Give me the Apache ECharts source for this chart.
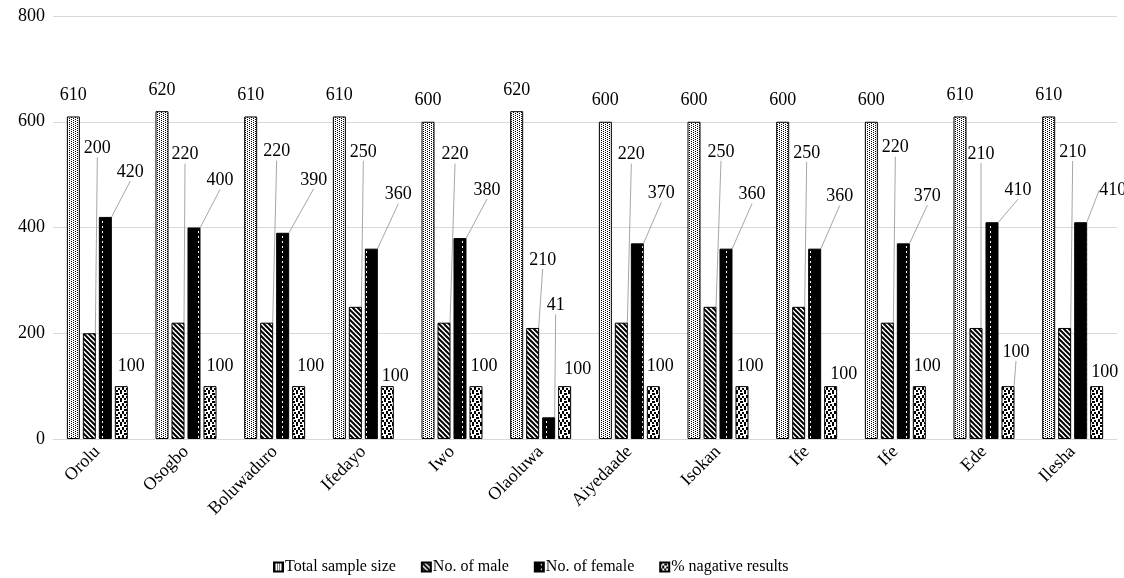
<!DOCTYPE html>
<html>
<head>
<meta charset="utf-8">
<script src="https://cdn.jsdelivr.net/npm/echarts@6/dist/echarts.min.js"></script>
<style>
html,body{margin:0;padding:0;background:#fff;}
#chart{width:1124px;height:578px;}
</style>
</head>
<body>
<div id="chart"></div>
<script>
// ---- data ----
const categories = ['Orolu','Osogbo','Boluwaduro','Ifedayo','Iwo','Olaoluwa','Aiyedaade','Isokan','Ife','Ife','Ede','Ilesha'];
const seriesNames = ['Total sample size','No. of male','No. of female','% nagative results'];
const totalSample = [610,620,610,610,600,620,600,600,600,600,610,610];
const maleCount   = [200,220,220,250,220,210,220,250,250,220,210,210];
const femaleCount = [420,400,390,360,380,41,370,360,360,370,410,410];
const negResults  = [100,100,100,100,100,100,100,100,100,100,100,100];
const yTicks = {min:0, max:800, interval:200};

// ---- label offsets (px), positions kept apart from data ----
const maleLabelOffset   = [[8,-171],[7,-154],[10,-157],[8,-141],[11,-154],[10,-54],[10,-154],[11,-141],[8,-140],[8,-161],[5,-160],[8,-162]];
const femaleLabelOffset = [[25,-31],[26,-33],[31,-39],[27,-40],[27,-34],[7,-98],[24,-36],[26,-40],[25,-38],[24,-33],[26,-18],[32,-18]];
const negLabelOffset    = [[10,-6],[10,-6],[12,-6],[8,4],[8,-6],[13,-3],[7,-6],[8,-6],[13,2],[8,-6],[8,-20],[8,0]];
const negLineShown      = [false,false,false,false,false,false,false,false,false,false,true,false];

// ---- patterns ----
function makeTile(w, h, bg, draw) {
  const c = document.createElement('canvas');
  c.width = w; c.height = h;
  const g = c.getContext('2d');
  g.fillStyle = bg; g.fillRect(0, 0, w, h);
  draw(g);
  return {image: c, repeat: 'repeat'};
}
const patTotal = makeTile(4, 2, '#fff', g => {
  g.fillStyle = '#000';
  g.fillRect(1, 0, 1, 1);
  g.fillRect(3, 1, 1, 1);
});
const patMale = makeTile(5, 5, '#fff', g => {
  g.strokeStyle = '#000'; g.lineWidth = 2;
  for (let x = -5; x <= 5; x += 5) {
    g.beginPath(); g.moveTo(x - 1, -1); g.lineTo(x + 6, 6); g.stroke();
  }
});
const patFemale = makeTile(12, 5, '#000', g => {
  g.fillStyle = '#fff';
  g.fillRect(6, 1, 1, 2);
});
const patNeg = makeTile(8, 8, '#fff', g => {
  g.fillStyle = '#000';
  [[0,0,2,2],[4,1,3,2],[2,3,2,3],[6,4,2,2],[0,6,2,2],[4,6,2,2]].forEach(r => g.fillRect(r[0], r[1], r[2], r[3]));
});

const FONT = 'Liberation Serif';
const FS = 18;
const lineStyle = {color: '#a6a6a6', width: 1};

function barSeries(name, values, pattern) {
  return {
    name: name, type: 'bar', barWidth: 13, barGap: '23%',
    data: values,
    itemStyle: {color: pattern, borderColor: '#000', borderWidth: 1},
    label: {show: true, position: 'top', distance: 5, color: '#000', fontFamily: FONT, fontSize: FS},
    emphasis: {disabled: true}
  };
}

const sTotal = barSeries(seriesNames[0], totalSample, patTotal);
sTotal.label.distance = 12;

const sMale = barSeries(seriesNames[1], maleCount, patMale);
sMale.labelLine = {show: true, lineStyle: lineStyle};
sMale.labelLayout = p => ({dx: maleLabelOffset[p.dataIndex][0], dy: maleLabelOffset[p.dataIndex][1]});

const sFemale = barSeries(seriesNames[2], femaleCount, patFemale);
sFemale.labelLine = {show: true, lineStyle: lineStyle};
sFemale.labelLayout = p => ({dx: femaleLabelOffset[p.dataIndex][0], dy: femaleLabelOffset[p.dataIndex][1]});

const sNeg = barSeries(seriesNames[3], negResults.map((v, i) => ({value: v, labelLine: {show: negLineShown[i], lineStyle: lineStyle}})), patNeg);
sNeg.labelLayout = p => ({dx: negLabelOffset[p.dataIndex][0], dy: negLabelOffset[p.dataIndex][1]});

const chart = echarts.init(document.getElementById('chart'), null, {renderer: 'canvas'});
chart.setOption({
  animation: false,
  backgroundColor: '#fff',
  textStyle: {fontFamily: FONT},
  grid: {left: 53, right: 7, top: 16, bottom: 139, containLabel: false},
  legend: {
    top: 554, left: 268, itemWidth: 9, itemHeight: 9, itemGap: 25,
    icon: 'rect',
    textStyle: {fontFamily: FONT, fontSize: 16, color: '#000', padding: [0, 0, 0, -3]},
    data: seriesNames
  },
  xAxis: {
    type: 'category', data: categories,
    axisLine: {lineStyle: {color: '#d9d9d9', width: 1}},
    axisTick: {show: false},
    axisLabel: {rotate: 45, interval: 0, margin: 10, fontFamily: FONT, fontSize: FS, color: '#000'}
  },
  yAxis: {
    type: 'value', min: yTicks.min, max: yTicks.max, interval: yTicks.interval,
    axisLine: {show: false}, axisTick: {show: false},
    splitLine: {lineStyle: {color: '#d9d9d9', width: 1}},
    axisLabel: {margin: 8, fontFamily: FONT, fontSize: FS, color: '#000'}
  },
  series: [sTotal, sMale, sFemale, sNeg]
});
</script>
</body>
</html>
